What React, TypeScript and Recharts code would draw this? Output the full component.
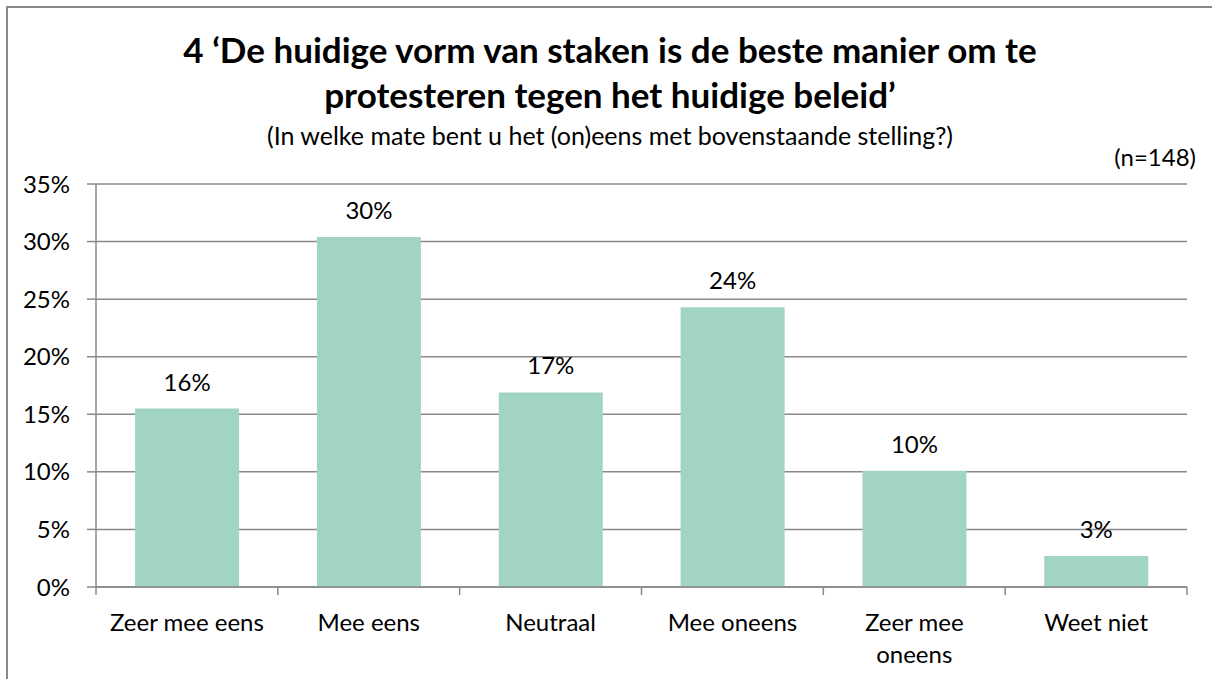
import React from "react";
import { BarChart, Bar, XAxis, YAxis, CartesianGrid, LabelList } from "recharts";

const CATEGORIES = ["Zeer mee eens", "Mee eens", "Neutraal", "Mee oneens", "Zeer mee oneens", "Weet niet"];
const PERCENTAGES = [15.5, 30.4, 16.9, 24.3, 10.1, 2.7];
const Y_TICKS = [0, 5, 10, 15, 20, 25, 30, 35];
const TITLE_LINES = ["4 \u2018De huidige vorm van staken is de beste manier om te", "protesteren tegen het huidige beleid\u2019"];
const SUBTITLE = "(In welke mate bent u het (on)eens met bovenstaande stelling?)";
const SAMPLE = "(n=148)";

const data = CATEGORIES.map((name, i) => ({ name, value: PERCENTAGES[i] }));

const FONT = "Lato, Carlito, 'Liberation Sans', sans-serif";
const AXIS_GREY = "#898989";
const BAR_COLOR = "#a1d4c3";
const W = 1212;
const H = 679;
const MARGIN = { top: 184, right: 25, bottom: 22, left: 36 };
const Y_AXIS_W = 60;
const BAND = (W - MARGIN.left - MARGIN.right - Y_AXIS_W) / CATEGORIES.length;

// wrap long labels on a word boundary, like Excel does
function wrap(label: string, max = 14) {
  const lines: string[] = [];
  let cur = "";
  for (const w of label.split(" ")) {
    const next = cur ? cur + " " + w : w;
    if (next.length > max && cur) {
      lines.push(cur);
      cur = w;
    } else cur = next;
  }
  if (cur) lines.push(cur);
  return lines;
}

function CategoryTick(props: any) {
  const { x, y, payload } = props;
  const half = payload.offset || BAND / 2;
  const last = payload.index === CATEGORIES.length - 1;
  const lines = wrap(String(payload.value));
  return (
    <g>
      <line x1={x - half} x2={x - half} y1={y} y2={y + 8} stroke={AXIS_GREY} strokeWidth={1.5} />
      {last && <line x1={x + half} x2={x + half} y1={y} y2={y + 8} stroke={AXIS_GREY} strokeWidth={1.5} />}
      <text x={x} y={y + 44} textAnchor="middle" fill="#000" fontSize={24} fontFamily={FONT}>
        {lines.map((l, i) => (
          <tspan key={i} x={x} dy={i === 0 ? 0 : 32}>
            {l}
          </tspan>
        ))}
      </text>
    </g>
  );
}

export default function App() {
  return (
    <div style={{ position: "fixed", left: 0, top: 0, width: W, height: H, overflow: "hidden", background: "#fff", fontFamily: FONT }}>
      <div
        style={{
          position: "absolute",
          left: 6,
          top: 6,
          right: -10,
          bottom: -10,
          borderLeft: `2px solid ${AXIS_GREY}`,
          borderTop: `2px solid ${AXIS_GREY}`,
        }}
      />
      <div style={{ position: "absolute", left: 4, width: W, top: 27, textAlign: "center", fontSize: 35, fontWeight: 700, lineHeight: "45px", color: "#000" }}>
        {TITLE_LINES.map((l) => (
          <div key={l}>{l}</div>
        ))}
      </div>
      <div style={{ position: "absolute", left: 4, width: W, top: 123, textAlign: "center", fontSize: 25, lineHeight: "24px", color: "#000" }}>
        {SUBTITLE}
      </div>
      <div style={{ position: "absolute", right: 16, top: 145, fontSize: 24, lineHeight: "24px", color: "#000" }}>{SAMPLE}</div>
      <div style={{ position: "absolute", left: 0, top: 0 }}>
        <BarChart width={W} height={H} data={data} margin={MARGIN} barCategoryGap="21.5%">
          <CartesianGrid vertical={false} stroke={AXIS_GREY} strokeWidth={1.5} />
          <XAxis
            dataKey="name"
            axisLine={{ stroke: AXIS_GREY, strokeWidth: 1.5 }}
            tickLine={false}
            tickSize={0}
            tickMargin={0}
            height={70}
            interval={0}
            tick={<CategoryTick />}
          />
          <YAxis
            domain={[0, 35]}
            ticks={Y_TICKS}
            width={Y_AXIS_W}
            axisLine={{ stroke: AXIS_GREY, strokeWidth: 1.5 }}
            tickLine={{ stroke: AXIS_GREY, strokeWidth: 1.5 }}
            tickSize={9}
            tickMargin={17}
            tickFormatter={(v) => `${v}%`}
            tick={{ fill: "#000", fontSize: 24, fontFamily: FONT }}
          />
          <Bar dataKey="value" fill={BAR_COLOR} isAnimationActive={false}>
            <LabelList
              dataKey="value"
              position="top"
              offset={18}
              formatter={(v: any) => `${Math.round(Number(v))}%`}
              style={{ fill: "#000", fontSize: 24, fontFamily: FONT }}
            />
          </Bar>
        </BarChart>
      </div>
    </div>
  );
}
